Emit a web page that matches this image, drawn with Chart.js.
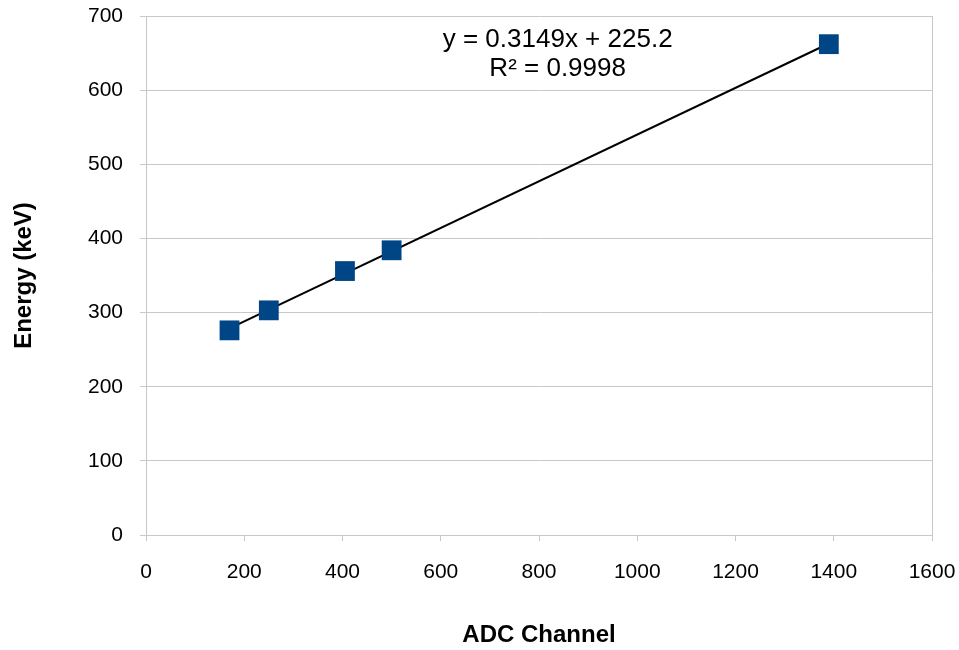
<!DOCTYPE html>
<html>
<head>
<meta charset="utf-8">
<script src="https://cdn.jsdelivr.net/npm/chart.js@4/dist/chart.umd.min.js"></script>
<style>
  html, body { margin: 0; padding: 0; background: #fff; }
  #wrap { width: 959px; height: 650px; }
</style>
</head>
<body>
<div id="wrap"><canvas id="myChart"></canvas></div>
<script>
// calibration points: ADC channel vs energy
let channels = [170, 250, 405, 500, 1390];
let energies = [276, 303, 356, 384, 662];

// linear fit reported on the chart
let slope = 0.3149;
let intercept = 225.2;
let rSquared = 0.9998;

let xTicks = [0, 200, 400, 600, 800, 1000, 1200, 1400, 1600];
let yTicks = [0, 100, 200, 300, 400, 500, 600, 700];

let points = channels.map((c, i) => ({ x: c, y: energies[i] }));
let xMin = Math.min(...channels), xMax = Math.max(...channels);
let fitLine = [
    { x: xMin, y: slope * xMin + intercept },
    { x: xMax, y: slope * xMax + intercept }
];

const font = "'Liberation Sans', Arial, sans-serif";
const gridGray = "#c8c8c8";

// equation + R² text, placed in data coordinates
const fitLabel = {
    id: "fitLabel",
    afterDatasetsDraw(chart) {
        const { ctx, scales: { x, y } } = chart;
        const cx = x.getPixelForValue(838);
        ctx.save();
        ctx.font = "26px " + font;
        ctx.fillStyle = "#000";
        ctx.textAlign = "center";
        ctx.textBaseline = "middle";
        ctx.fillText("y = " + slope + "x + " + intercept, cx, y.getPixelForValue(668));
        ctx.fillText("R² = " + rSquared, cx, y.getPixelForValue(629));
        ctx.restore();
    }
};

let myChart = document.getElementById("myChart").getContext("2d");
let calChart = new Chart(myChart, {
    type: "scatter",
    data: {
        datasets: [{
            label: "fit",
            data: fitLine,
            showLine: true,
            borderColor: "#000",
            borderWidth: 2,
            pointRadius: 0,
            order: 2
        }, {
            label: "Energy",
            data: points,
            pointStyle: "rect",
            pointRadius: 14,
            pointHoverRadius: 14,
            backgroundColor: "#004586",
            borderColor: "#004586",
            borderWidth: 0,
            order: 1
        }]
    },
    options: {
        responsive: true,
        maintainAspectRatio: false,
        animation: false,
        layout: { padding: { top: 16, right: 27, left: 0, bottom: 0 } },
        plugins: {
            legend: { display: false },
            tooltip: { enabled: false }
        },
        scales: {
            x: {
                type: "linear",
                min: 0,
                max: 1600,
                afterBuildTicks: (s) => { s.ticks = xTicks.map(v => ({ value: v })); },
                afterFit: (s) => { s.height = 115; s.paddingLeft = 0; s.paddingRight = 0; },
                border: { color: gridGray, width: 1 },
                grid: {
                    color: (c) => c.tick && c.tick.value === 1600 ? gridGray : "rgba(0,0,0,0)",
                    tickColor: gridGray,
                    tickLength: 6
                },
                ticks: {
                    color: "#000",
                    font: { family: font, size: 21 },
                    padding: 19,
                    maxRotation: 0,
                    callback: (v) => String(v)
                },
                title: {
                    display: true,
                    text: "ADC Channel",
                    color: "#000",
                    font: { family: font, size: 24, weight: "bold" },
                    padding: { top: 0, bottom: 0 }
                }
            },
            y: {
                type: "linear",
                min: 0,
                max: 700,
                afterBuildTicks: (s) => { s.ticks = yTicks.map(v => ({ value: v })); },
                afterFit: (s) => { s.width = 146; s.paddingTop = 0; s.paddingBottom = 0; },
                border: { color: gridGray, width: 1 },
                grid: {
                    color: gridGray,
                    tickColor: gridGray,
                    tickLength: 6
                },
                ticks: {
                    color: "#000",
                    font: { family: font, size: 21 },
                    padding: 17,
                    callback: (v) => String(v)
                },
                title: {
                    display: true,
                    text: "Energy (keV)",
                    color: "#000",
                    font: { family: font, size: 24, weight: "bold" },
                    padding: { top: 10, bottom: 0 }
                }
            }
        }
    },
    plugins: [fitLabel]
});
</script>
</body>
</html>
